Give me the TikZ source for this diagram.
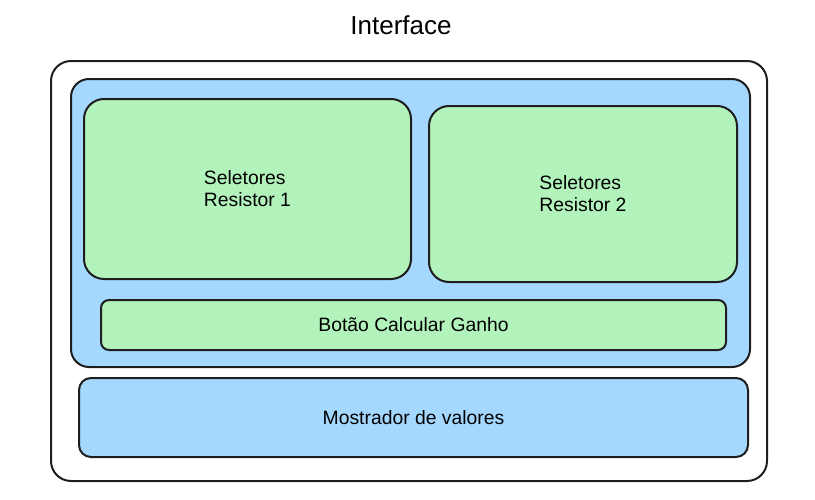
\documentclass[tikz,border=0pt]{standalone}
\usepackage{fontspec}
\setmainfont{Liberation Sans}
\definecolor{strokegray}{HTML}{1E1E1E}
\definecolor{bluefill}{HTML}{A5D8FF}
\definecolor{greenfill}{HTML}{B2F2BB}
\tikzset{every picture/.style={line width=0.75pt}}
\tikzset{
  box/.style={draw=strokegray, line width=1.5pt, rounded corners=15pt, anchor=north west, inner sep=0pt, align=left, font=\fontsize{14.5}{16.5}\selectfont},
  bluebox/.style={box, fill=bluefill},
  greenbox/.style={box, fill=greenfill},
}

\begin{document}
\begin{tikzpicture}[x=0.75pt,y=0.75pt,yscale=-1,xscale=1]
\useasboundingbox (0,0) rectangle (815,500);

% Title
\node (title) at (401,25) {\fontsize{19.5}{22}\selectfont Interface};

%Shape: outer frame
\node [box, minimum width=537pt, minimum height=315pt] (frame) at (50,60) {};
%Shape: blue panel
\node [bluebox, rounded corners=13.5pt, minimum width=509.25pt, minimum height=216pt] (panel) at (70,78) {};
%Shape: selector boxes
\node [greenbox, minimum width=245.25pt, minimum height=135pt] (sel1) at (83,98) {Seletores\\Resistor 1};
\node [greenbox, minimum width=231pt, minimum height=132pt] (sel2) at (428,105) {Seletores\\Resistor 2};
%Shape: button
\node [greenbox, rounded corners=6pt, minimum width=468.75pt, minimum height=37.5pt] (button) at (100,299) {Botão Calcular Ganho};
%Shape: display
\node [bluebox, rounded corners=9pt, minimum width=501.75pt, minimum height=59.25pt] (display) at (78,377) {Mostrador de valores};

\end{tikzpicture}
\end{document}
